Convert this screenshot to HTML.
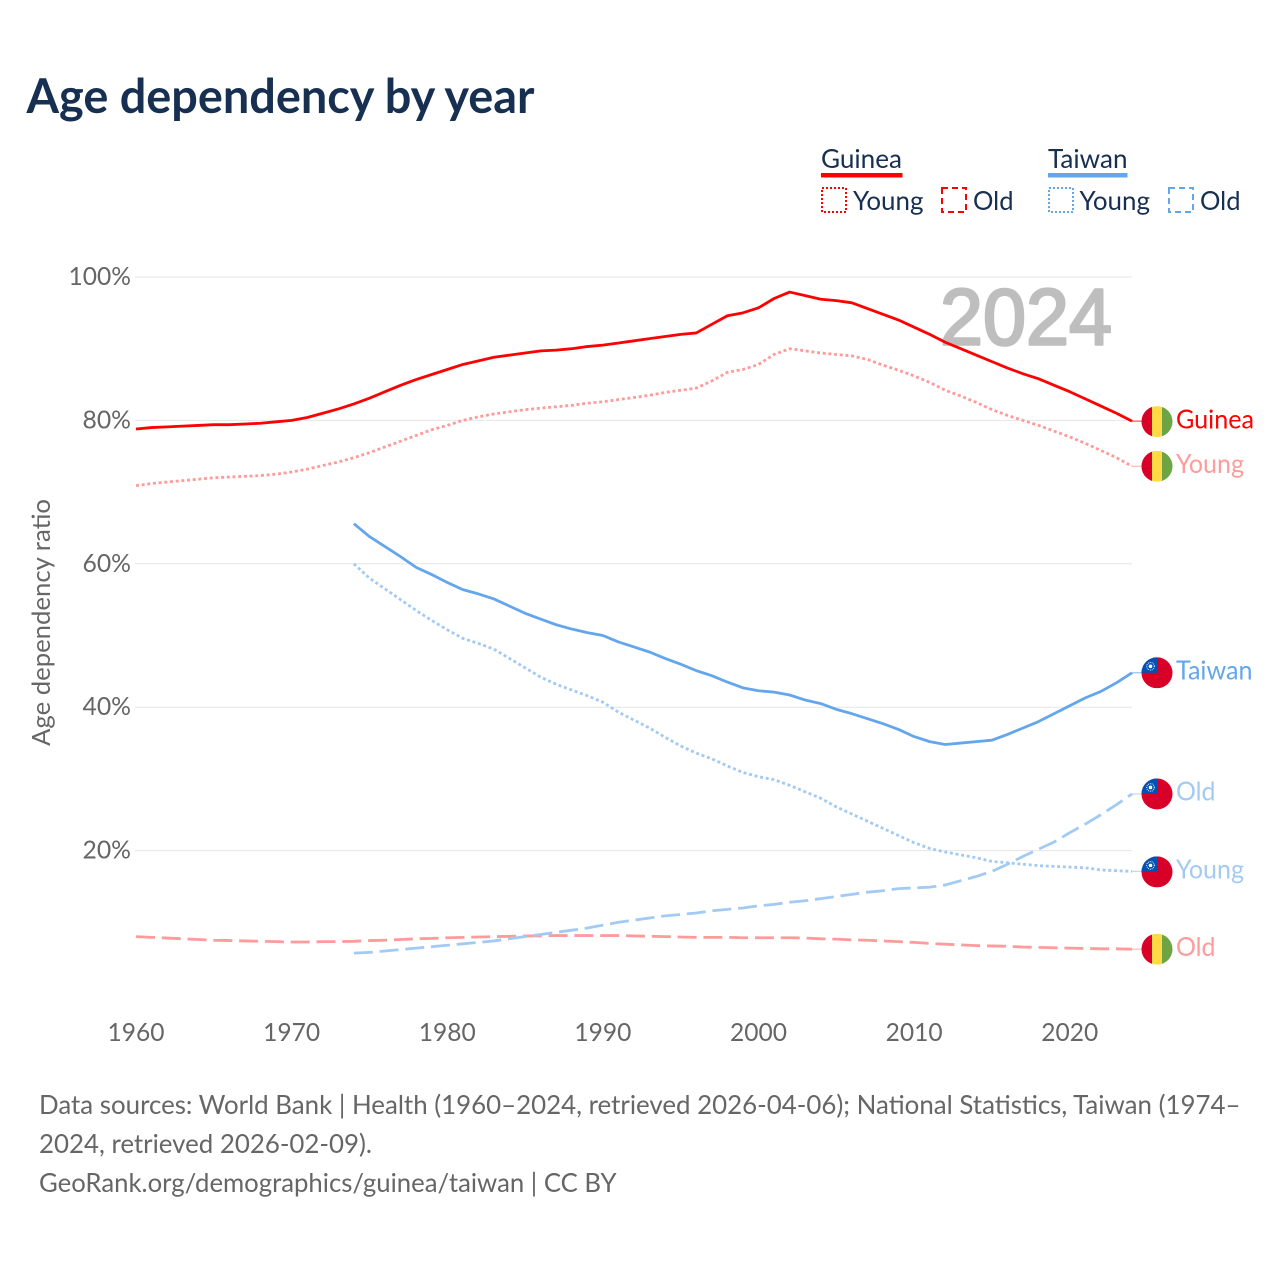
<!DOCTYPE html>
<html lang="en">
<head>
<meta charset="utf-8">
<title>Age dependency by year</title>
<style>
html,body{margin:0;padding:0;background:#fff;width:1280px;height:1280px;overflow:hidden}
svg{display:block}
text{font-family:"Lato","Carlito","Liberation Sans",sans-serif}
</style>
</head>
<body>
<svg id="chart" xmlns="http://www.w3.org/2000/svg" width="1280" height="1280" viewBox="0 0 1280 1280">
  <text x="26.5" y="113" font-size="48" font-weight="700" fill="#172f50" textLength="508" lengthAdjust="spacingAndGlyphs">Age dependency by year</text>

  <g>
    <g>
      <text x="821" y="168" font-size="26" fill="#172f50" textLength="81" lengthAdjust="spacingAndGlyphs">Guinea</text>
      <rect x="821" y="173" width="81.5" height="4.5" fill="#ff0000"/>
      <rect x="822" y="188" width="24" height="24" fill="none" stroke="#ff0000" stroke-width="2" stroke-dasharray="2 2"/>
      <text x="853" y="210" font-size="26" fill="#172f50" textLength="70.5" lengthAdjust="spacingAndGlyphs">Young</text>
      <rect x="942" y="188" width="24" height="24" fill="none" stroke="#ff0000" stroke-width="2" stroke-dasharray="6 4"/>
      <text x="973" y="210" font-size="26" fill="#172f50" textLength="40.5" lengthAdjust="spacingAndGlyphs">Old</text>
    </g>
    <g>
      <text x="1048" y="168" font-size="26" fill="#172f50" textLength="79.5" lengthAdjust="spacingAndGlyphs">Taiwan</text>
      <rect x="1048" y="173" width="79.5" height="4.5" fill="#64a6ec"/>
      <rect x="1049" y="188" width="24" height="24" fill="none" stroke="#64a6ec" stroke-width="2" stroke-dasharray="2 2"/>
      <text x="1079.5" y="210" font-size="26" fill="#172f50" textLength="70.5" lengthAdjust="spacingAndGlyphs">Young</text>
      <rect x="1169" y="188" width="24" height="24" fill="none" stroke="#64a6ec" stroke-width="2" stroke-dasharray="6 4"/>
      <text x="1200" y="210" font-size="26" fill="#172f50" textLength="40.5" lengthAdjust="spacingAndGlyphs">Old</text>
    </g>
  </g>

  <text transform="translate(50,622.5) rotate(-90)" text-anchor="middle" font-size="25" fill="#666666" textLength="247" lengthAdjust="spacingAndGlyphs">Age dependency ratio</text>

  <g id="grid"></g>
  <g id="yticks"></g>
  <g id="xticks"></g>

  <text x="940" y="344.5" font-size="80" font-weight="400" fill="#bebebe" stroke="#bebebe" stroke-width="2.6" stroke-linejoin="round" style="font-family:'Liberation Sans',sans-serif" textLength="172" lengthAdjust="spacingAndGlyphs">2024</text>

  <g id="series"></g>
  <g id="endlabels"></g>

  <g font-size="26" fill="#666666">
    <text x="39" y="1114" textLength="1201.5" lengthAdjust="spacingAndGlyphs">Data sources: World Bank | Health (1960–2024, retrieved 2026-04-06); National Statistics, Taiwan (1974–</text>
    <text x="39" y="1153" textLength="333" lengthAdjust="spacingAndGlyphs">2024, retrieved 2026-02-09).</text>
    <text x="39" y="1192" textLength="577.5" lengthAdjust="spacingAndGlyphs">GeoRank.org/demographics/guinea/taiwan | CC BY</text>
  </g>
</svg>
<script>
const xTickYears = [1960, 1970, 1980, 1990, 2000, 2010, 2020];
const yTickValues = [20, 40, 60, 80, 100];
const guineaStartYear = 1960;
const taiwanStartYear = 1974;
const guineaTotal = [78.8,79.0,79.1,79.2,79.3,79.4,79.4,79.5,79.6,79.8,80.0,80.4,81.0,81.6,82.3,83.1,84.0,84.9,85.7,86.4,87.1,87.8,88.3,88.8,89.1,89.4,89.7,89.8,90.0,90.3,90.5,90.8,91.1,91.4,91.7,92.0,92.2,93.4,94.6,95.0,95.7,97.0,97.9,97.4,96.9,96.7,96.4,95.6,94.8,94.0,93.0,92.0,90.9,90.0,89.1,88.2,87.3,86.5,85.8,84.9,84.0,83.0,82.0,81.0,79.9];
const guineaYoung = [70.9,71.2,71.4,71.6,71.8,72.0,72.1,72.2,72.3,72.5,72.8,73.2,73.7,74.2,74.8,75.5,76.3,77.1,77.9,78.7,79.3,80.0,80.5,80.9,81.2,81.5,81.7,81.9,82.1,82.4,82.6,82.9,83.2,83.5,83.9,84.2,84.5,85.5,86.7,87.1,87.8,89.2,90.0,89.7,89.4,89.2,89.0,88.5,87.7,87.0,86.2,85.3,84.2,83.4,82.5,81.5,80.7,80.0,79.3,78.5,77.7,76.8,75.8,74.8,73.6];
const guineaOld = [8.0,7.9,7.8,7.7,7.6,7.5,7.45,7.4,7.35,7.3,7.25,7.25,7.3,7.3,7.35,7.45,7.5,7.6,7.7,7.75,7.85,7.9,7.95,8.0,8.05,8.1,8.1,8.15,8.15,8.15,8.15,8.15,8.1,8.05,8.0,7.95,7.9,7.9,7.9,7.85,7.85,7.85,7.85,7.8,7.7,7.65,7.55,7.5,7.4,7.3,7.2,7.05,6.95,6.85,6.75,6.7,6.65,6.55,6.5,6.45,6.4,6.35,6.3,6.3,6.25];
const taiwanTotal = [65.6,63.8,62.4,61.0,59.5,58.5,57.4,56.4,55.8,55.1,54.1,53.1,52.3,51.5,50.9,50.4,50.0,49.1,48.4,47.7,46.8,46.0,45.1,44.4,43.5,42.7,42.3,42.1,41.7,41.0,40.5,39.7,39.1,38.4,37.7,36.9,35.9,35.2,34.8,35.0,35.2,35.4,36.2,37.1,38.0,39.1,40.2,41.3,42.2,43.4,44.8];
const taiwanYoung = [60.0,58.0,56.5,55.0,53.5,52.1,50.8,49.6,48.9,48.1,46.8,45.5,44.2,43.2,42.4,41.6,40.7,39.3,38.2,37.1,35.8,34.6,33.6,32.8,31.8,30.9,30.3,29.9,29.1,28.2,27.3,26.1,25.1,24.1,23.1,22.1,21.1,20.3,19.8,19.4,19.0,18.5,18.3,18.1,17.9,17.8,17.7,17.6,17.3,17.2,17.1];
const taiwanOld = [5.7,5.8,6.0,6.2,6.4,6.6,6.8,7.0,7.2,7.4,7.7,8.0,8.3,8.6,8.9,9.2,9.6,10.0,10.3,10.6,10.9,11.1,11.3,11.6,11.8,12.0,12.3,12.5,12.8,13.0,13.3,13.6,13.9,14.2,14.4,14.7,14.8,14.9,15.2,15.8,16.4,17.1,18.1,19.2,20.2,21.2,22.5,23.7,25.0,26.4,27.9];

const NS = 'http://www.w3.org/2000/svg';
const xScale = function (year) { return 136 + (year - 1960) * (1132 - 136) / 64; };
const yScale = function (pct) { return 994 - pct * 7.17; };

function make(tag, attrs, parent) {
  const el = document.createElementNS(NS, tag);
  for (const k in attrs) el.setAttribute(k, attrs[k]);
  parent.appendChild(el);
  return el;
}

const gridGroup = document.getElementById('grid');
const yTickGroup = document.getElementById('yticks');
const xTickGroup = document.getElementById('xticks');
const seriesGroup = document.getElementById('series');
const endGroup = document.getElementById('endlabels');

yTickValues.forEach(function (v) {
  const line = make('line', {x1: 135, x2: 1132, y1: yScale(v), y2: yScale(v), stroke: '#e6e6e6', 'stroke-width': 1}, gridGroup);
  
  
  const t = make('text', {x: 131, y: yScale(v) + 8, 'text-anchor': 'end', 'font-size': 25, fill: '#666666', textLength: v === 100 ? 62.5 : 48.5, lengthAdjust: 'spacingAndGlyphs'}, yTickGroup);
  t.textContent = v + '%';
  
  
});

xTickYears.forEach(function (y) {
  const t = make('text', {x: xScale(y), y: 1041, 'text-anchor': 'middle', 'font-size': 25, fill: '#666666', textLength: 57, lengthAdjust: 'spacingAndGlyphs'}, xTickGroup);
  t.textContent = String(y);
  
  
});

function drawLine(values, startYear, color, dash, name) {
  const pts = values.map(function (v, i) {
    return xScale(startYear + i).toFixed(2) + ',' + yScale(v).toFixed(2);
  }).join(' ');
  const attrs = {points: pts, fill: 'none', stroke: color, 'stroke-width': 2.8, 'stroke-linejoin': 'round'};
  if (dash) attrs['stroke-dasharray'] = dash;
  const pl = make('polyline', attrs, seriesGroup);
  
  
}

const RED = '#ff0000', RED_L = '#ff9b9b', BLUE = '#64a6ec', BLUE_L = '#a3caf3';
const DOT = '3 2.7', DASH = '19 6.8';
drawLine(guineaOld, guineaStartYear, RED_L, DASH, 'line-guinea-old');
drawLine(taiwanOld, taiwanStartYear, BLUE_L, DASH, 'line-taiwan-old');
drawLine(guineaYoung, guineaStartYear, RED_L, DOT, 'line-guinea-young');
drawLine(taiwanYoung, taiwanStartYear, BLUE_L, DOT, 'line-taiwan-young');
drawLine(taiwanTotal, taiwanStartYear, BLUE, null, 'line-taiwan-total');
drawLine(guineaTotal, guineaStartYear, RED, null, 'line-guinea-total');

const defs = make('defs', {}, document.getElementById('chart'));

function drawFlag(country, cy, idx, name) {
  const cx = 1157, r = 15.5;
  const clip = make('clipPath', {id: 'flag-clip-' + idx}, defs);
  make('circle', {cx: cx, cy: cy, r: r}, clip);
  const g = make('g', {'clip-path': 'url(#flag-clip-' + idx + ')'}, endGroup);
  
  
  if (country === 'guinea') {
    make('rect', {x: cx - r, y: cy - r, width: 10.5, height: 31, fill: '#d80027'}, g);
    make('rect', {x: cx - 5, y: cy - r, width: 10, height: 31, fill: '#ffda44'}, g);
    make('rect', {x: cx + 5, y: cy - r, width: 10.5, height: 31, fill: '#6da544'}, g);
  } else {
    make('rect', {x: cx - r, y: cy - r, width: 31, height: 31, fill: '#d80027'}, g);
    make('rect', {x: cx - r, y: cy - r, width: 15.5, height: 15.5, fill: '#0052b4'}, g);
    make('circle', {cx: cx - 6.5, cy: cy - 6.5, r: 3.8, fill: 'none', stroke: '#ffffff', 'stroke-width': 1, 'stroke-dasharray': '0.9 1'}, g);
    make('circle', {cx: cx - 6.5, cy: cy - 6.5, r: 1.8, fill: '#ffffff'}, g);
  }
}

function drawEnd(values, offset, country, text, width, color, idx, name) {
  const last = values[values.length - 1];
  const ly = yScale(last);
  const cy = ly + offset;
  const stub = make('line', {x1: 1132, x2: 1142, y1: ly, y2: ly, stroke: color, 'stroke-width': 1.2, opacity: 0.7}, endGroup);
  
  
  drawFlag(country, cy, idx, name + '-flag');
  const t = make('text', {x: 1176, y: cy + 6.7, 'font-size': 26, fill: color, textLength: width, lengthAdjust: 'spacingAndGlyphs'}, endGroup);
  t.textContent = text;
  
  
}

drawEnd(guineaTotal, 0.5, 'guinea', 'Guinea', 78, RED, 1, 'end-guinea-total');
drawEnd(guineaYoung, 0, 'guinea', 'Young', 68, RED_L, 2, 'end-guinea-young');
drawEnd(guineaOld, 0, 'guinea', 'Old', 39.5, RED_L, 3, 'end-guinea-old');
drawEnd(taiwanTotal, 0, 'taiwan', 'Taiwan', 76.5, BLUE, 4, 'end-taiwan-total');
drawEnd(taiwanOld, 0, 'taiwan', 'Old', 39.5, BLUE_L, 5, 'end-taiwan-old');
drawEnd(taiwanYoung, 0.5, 'taiwan', 'Young', 68, BLUE_L, 6, 'end-taiwan-young');
</script>
</body>
</html>
